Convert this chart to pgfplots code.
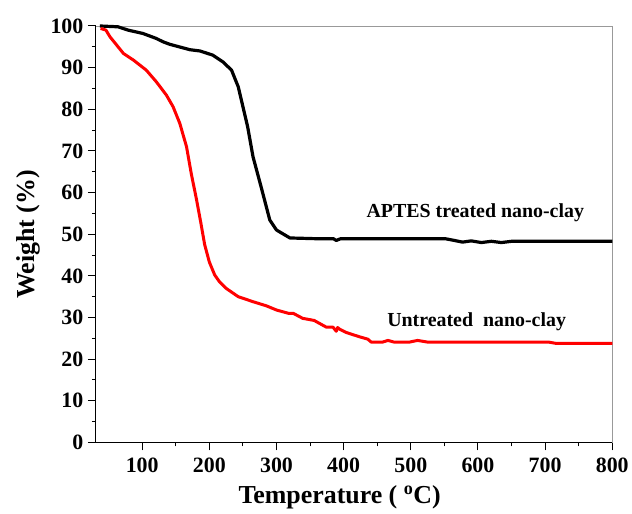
\documentclass[border=0pt]{standalone}
\usepackage{pgfplots}
\pgfplotsset{compat=1.18}
\usepackage{fontspec}
\setmainfont{Liberation Serif}
\begin{document}
\begin{tikzpicture}
\begin{axis}[
  scale only axis,
  width=517bp, height=417bp,
  xmin=31, xmax=800, ymin=0, ymax=100,
  xtick={100,200,...,800}, ytick={0,10,...,100},
  minor x tick num=1, minor y tick num=1,
  tick pos=left, tick align=outside,
  major tick length=8bp, minor tick length=4bp,
  tick style={black, line width=1bp},
  axis line style={gray!80, line width=0.8bp},
  /pgf/number format/assume math mode=true,
  ticklabel style={font=\fontsize{22}{22}\selectfont\bfseries},
  xticklabel style={yshift=-4bp},
  yticklabel style={xshift=-1bp},
  xlabel={Temperature ( \textsuperscript{o}C)},
  ylabel={Weight (\%)},
  label style={font=\fontsize{26}{26}\selectfont\bfseries},
  xlabel style={at={(axis description cs:0.472,0)}, anchor=north, yshift=-40bp},
  ylabel style={yshift=4bp},
  clip=false,
]
\coordinate (O) at (rel axis cs:0,0);
\draw[black, line width=1.2bp] (rel axis cs:0,1) -- (rel axis cs:0,0) -- (rel axis cs:1,0);
\addplot[black, line width=3.2bp, line join=round] coordinates {
(37,100)(50,99.9)(64,99.8)(79,99.0)(101,98.2)(121,97.0)(131,96.2)(141,95.6)(171,94.3)(186,94.0)(205,93.0)(220,91.4)(233,89.4)(243,85.4)(257,75.8)(265,68.6)(277,61.4)(290,53.4)(300,51.0)(320,49.1)(364,48.9)(385,48.9)(389,48.5)(395,48.9)(450,48.9)(552,48.9)(565,48.5)(577,48.1)(590,48.4)(605,48.0)(620,48.3)(635,48.0)(650,48.3)(700,48.3)(800,48.3)
};
\addplot[red, line width=3bp, line join=round] coordinates {
(38,99.4)(46,99.0)(52,97.4)(62,95.4)(72,93.4)(87,91.8)(106,89.4)(121,86.6)(136,83.4)(146,80.6)(156,76.6)(166,71.0)(173,64.6)(181,58.2)(187,53.0)(193,47.5)(200,43.3)(208,40.2)(215,38.6)(225,37.0)(243,35.0)(265,33.8)(285,32.8)(300,31.8)(318,31.0)(325,31.0)(339,29.8)(356,29.3)(365,28.5)(374,27.7)(384,27.7)(389,26.7)(391,27.6)(394,27.2)(404,26.4)(423,25.4)(436,24.8)(441,24.1)(458,24.1)(466,24.5)(475,24.1)(498,24.1)(510,24.5)(525,24.1)(705,24.1)(716,23.8)(800,23.8)
};
\node[font=\fontsize{20}{20}\selectfont\bfseries] at (axis cs:596,55.2) {APTES treated nano-clay};
\node[font=\fontsize{20}{20}\selectfont\bfseries] at (axis cs:598,28.9) {Untreated\ \ nano-clay};
\end{axis}
\path (O) ++(-96bp,-71bp) rectangle ++(632bp,514bp);
\end{tikzpicture}
\end{document}
